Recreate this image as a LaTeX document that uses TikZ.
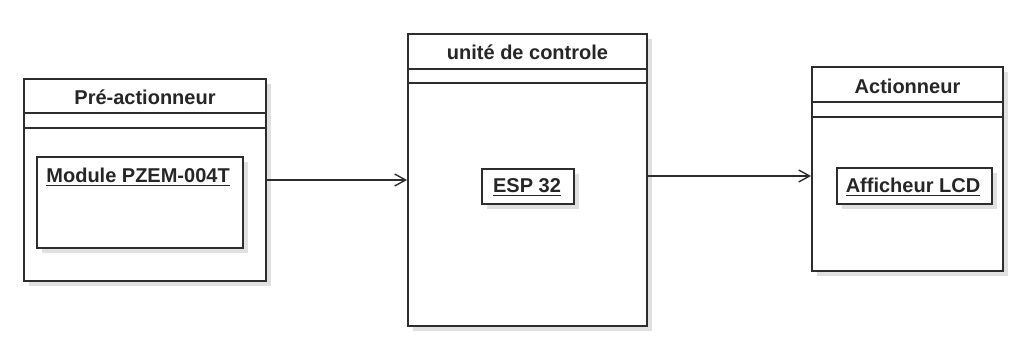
\documentclass[tikz,border=0pt]{standalone}
\usepackage{fontspec}
\setmainfont{Liberation Sans}
\usetikzlibrary{arrows.meta,shadows}

\definecolor{trait}{RGB}{45,45,45}

\tikzset{
  bloc/.style={draw=trait, line width=0.9pt, fill=white, inner sep=0pt,
    drop shadow={fill=black!12, shadow xshift=2.5pt, shadow yshift=-2.5pt, opacity=1}},
  objet/.style={draw=trait, line width=0.9pt, fill=white, inner sep=0pt,
    drop shadow={fill=black!12, shadow xshift=2.5pt, shadow yshift=-2.5pt, opacity=1}},
  titre/.style={font=\bfseries\fontsize{10}{12}\selectfont, text=black!85},
  texte/.style={font=\bfseries\fontsize{10}{12}\selectfont, text=black!85, inner sep=0pt},
  fleche/.style={draw=trait, line width=0.7pt, -{Straight Barb[length=5.5pt,width=6pt]}}
}

\begin{document}
\begin{tikzpicture}[x=0.5pt,y=-0.5pt]
\useasboundingbox (0,0) rectangle (1014,343);

% Pré-actionneur
\node[bloc, minimum width=121pt, minimum height=101pt] (pre) at (145,180) {};
\draw[trait, line width=0.9pt] (pre.west |- 0,113) -- (pre.east |- 0,113);
\draw[trait, line width=0.9pt] (pre.west |- 0,128) -- (pre.east |- 0,128);
\node[titre] (pre-titre) at (145,97) {Pré-actionneur};
\node[objet, minimum width=103pt, minimum height=45.5pt] (pzem) at (140,202.5) {};
\node[texte, anchor=west] (pzem-nom) at (46,177) {\underline{Module PZEM-004T}};

% unité de controle
\node[bloc, minimum width=119.5pt, minimum height=146pt] (ctrl) at (527.5,180) {};
\draw[trait, line width=0.9pt] (ctrl.west |- 0,69) -- (ctrl.east |- 0,69);
\draw[trait, line width=0.9pt] (ctrl.west |- 0,83) -- (ctrl.east |- 0,83);
\node[titre] (ctrl-titre) at (527.5,52) {unité de controle};
\node[objet, minimum width=46pt, minimum height=17.5pt] (esp) at (528,186.5) {};
\node[texte] (esp-nom) at (527,188) {\underline{ESP 32}};

% Actionneur
\node[bloc, minimum width=95.5pt, minimum height=102pt] (act) at (907.5,169) {};
\draw[trait, line width=0.9pt] (act.west |- 0,102) -- (act.east |- 0,102);
\draw[trait, line width=0.9pt] (act.west |- 0,117) -- (act.east |- 0,117);
\node[titre] (act-titre) at (907.5,86) {Actionneur};
\node[objet, minimum width=77.5pt, minimum height=18pt] (lcd) at (914.5,186) {};
\node[texte] (lcd-nom) at (913,187) {\underline{Afficheur LCD}};

% liaisons
\draw[fleche] (pre.east) -- (ctrl.west);
\draw[fleche] (ctrl.east |- 0,176) -- (act.west |- 0,176);

\end{tikzpicture}
\end{document}
